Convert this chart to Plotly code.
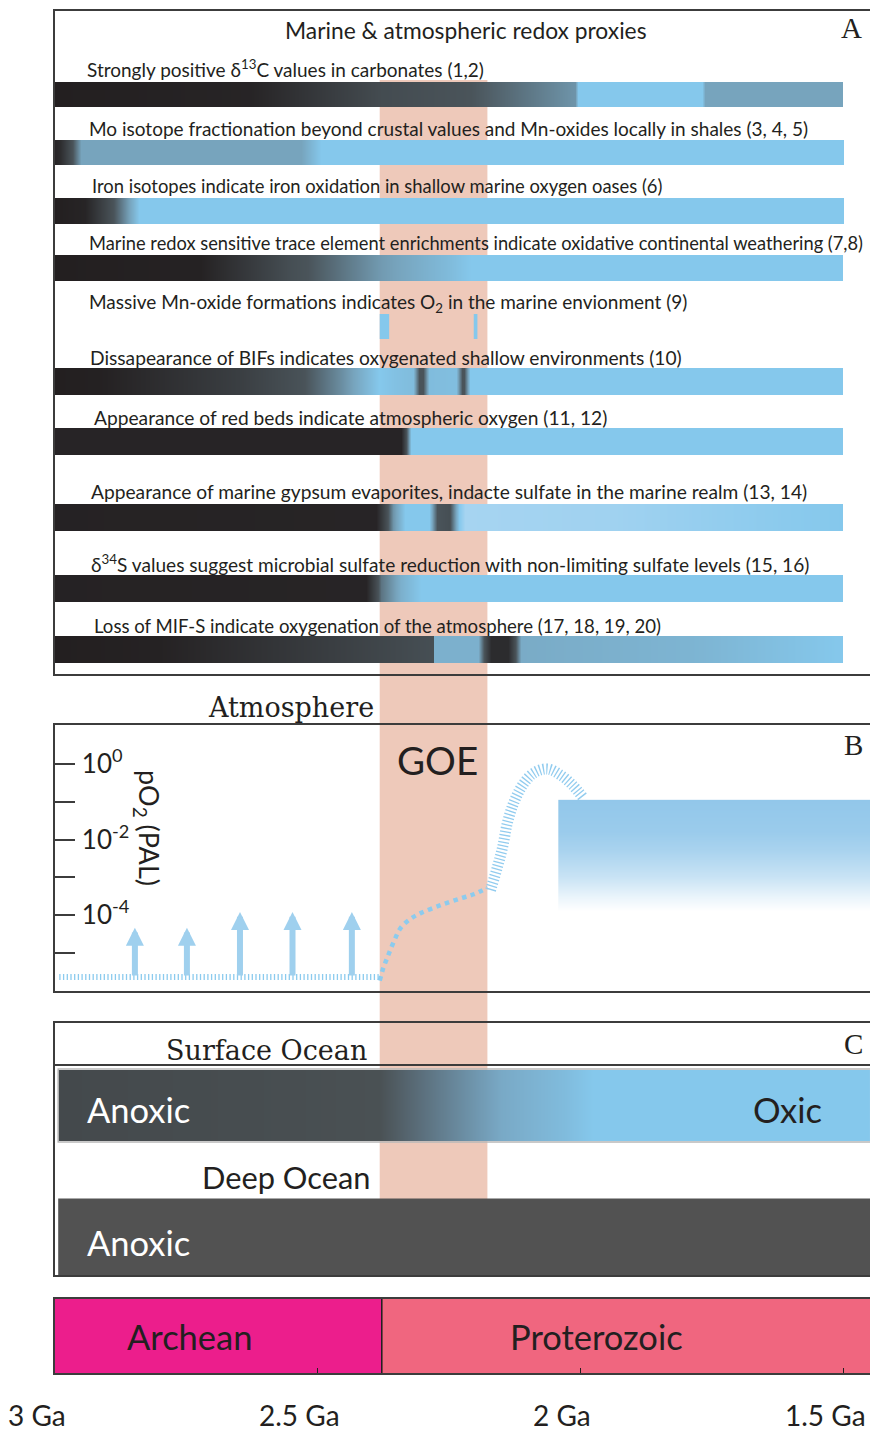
import plotly.graph_objects as go

# ---------------- canvas / layout constants ----------------
W, H = 870, 1432
ML, MR, MT, MB = 54, 0, 0, 58
PW, PH = W - ML - MR, H - MT - MB

def pxx(px):
    return (px - ML) / PW

def pxy(py):
    return (H - MB - py) / PH

SANS = "Lato, 'Open Sans', sans-serif"
SERIF = "'DejaVu Serif', serif"
SERIF2 = "'Liberation Serif', serif"
INK = '#231f20'

# ---------------- data ----------------
time_range = [3.002, 1.4487]
time_tick_vals = [3.0, 2.5, 2.0, 1.5]
time_tick_text = ['3 Ga', '2.5 Ga', '2 Ga', '1.5 Ga']

goe_start, goe_end = 2.382, 2.177

era_names = ['Archean', 'Proterozoic']
era_start = [3.002, 2.378]
era_end = [2.378, 1.40]
era_colors = ['#ec1e8c', '#f0667f']
era_label_ga = [2.745, 1.970]

proxy_labels = [
    'Strongly positive δ<sup>13</sup>C values in carbonates (1,2)',
    'Mo isotope fractionation beyond crustal values and Mn-oxides locally in shales (3, 4, 5)',
    'Iron isotopes indicate iron oxidation in shallow marine oxygen oases (6)',
    'Marine redox sensitive trace element enrichments indicate oxidative continental weathering (7,8)',
    'Massive Mn-oxide formations indicates O<sub>2</sub> in the marine envionment (9)',
    'Dissapearance of BIFs indicates oxygenated shallow environments (10)',
    'Appearance of red beds indicate atmospheric oxygen (11, 12)',
    'Appearance of marine gypsum evaporites, indacte sulfate in the marine realm (13, 14)',
    'δ<sup>34</sup>S values suggest microbial sulfate reduction with non-limiting sulfate levels (15, 16)',
    'Loss of MIF-S indicate oxygenation of the atmosphere (17, 18, 19, 20)',
]

# oxidation index along time (0 = anoxic/dark, 0.9 = oxic blue, 1 = pale blue)
d13c_ga = [3.002, 2.627, 2.380, 2.209, 2.010, 2.004, 1.768, 1.762, 1.5]
d13c_z = [0.0, 0.05, 0.42, 0.50, 0.70, 0.90, 0.90, 0.75, 0.75]
mo_ga = [3.002, 2.992, 2.951, 2.532, 2.494, 1.5]
mo_z = [0.05, 0.10, 0.75, 0.75, 0.90, 0.90]
fe_ga = [3.002, 2.943, 2.840, 1.5]
fe_z = [0.0, 0.05, 0.90, 0.90]
trace_ga = [3.002, 2.722, 2.551, 2.380, 2.247, 2.209, 1.5]
trace_z = [0.0, 0.03, 0.45, 0.72, 0.85, 0.90, 0.90]
mnox_start = [2.382, 2.203]
mnox_end = [2.364, 2.196]
bif_ga = [3.002, 2.913, 2.646, 2.532, 2.456, 2.384, 2.352, 2.319, 2.308, 2.300, 2.289,
          2.236, 2.226, 2.221, 2.211, 1.5]
bif_z = [0.0, 0.02, 0.30, 0.48, 0.68, 0.90, 0.87, 0.85, 0.50, 0.50, 0.85,
         0.86, 0.50, 0.50, 0.90, 0.90]
redbed_ga = [3.002, 2.342, 2.323, 1.5]
redbed_z = [0.05, 0.05, 0.90, 0.90]
gyp_ga = [3.002, 2.390, 2.357, 2.333, 2.289, 2.272, 2.251, 2.232, 2.219, 1.924, 1.620, 1.5]
gyp_z = [0.03, 0.05, 0.70, 0.90, 0.90, 0.50, 0.45, 0.90, 1.00, 0.98, 0.92, 0.90]
s34_ga = [3.002, 2.409, 2.380, 2.342, 2.304, 1.5]
s34_z = [0.03, 0.05, 0.60, 0.80, 0.90, 0.90]
mif_ga = [3.002, 2.798, 2.281, 2.279, 2.194, 2.171, 2.137, 2.114, 1.772, 1.5]
mif_z = [0.0, 0.03, 0.45, 0.80, 0.80, 0.12, 0.12, 0.78, 0.82, 0.90]

surface_ga = [2.994, 2.532, 2.384, 2.304, 2.152, 2.029, 1.977, 1.40]
surface_z = [0.0, 0.10, 0.15, 0.40, 0.75, 0.90, 1.0, 1.0]
deep_start, deep_end = 2.994, 1.40

# atmosphere (log10 pO2, PAL)
po2_tick_vals = [0, -1, -2, -3, -4, -5]
po2_tick_text = ['10<sup>0</sup>', ' ', '10<sup>-2</sup>', ' ', '10<sup>-4</sup>', ' ']
archean_base_ga = [2.992, 2.384]
archean_base_po2 = [-5.64, -5.64]
arrow_ga = [2.848, 2.749, 2.648, 2.548, 2.435]
arrow_tip_po2 = [-4.34, -4.34, -3.92, -3.92, -3.92]
goe_rise_ga = [2.382, 2.375, 2.367, 2.355, 2.342, 2.323, 2.304, 2.266, 2.228, 2.203, 2.177]
goe_rise_po2 = [-5.74, -5.40, -5.11, -4.70, -4.34, -4.10, -3.95, -3.74, -3.56, -3.45, -3.28]
overshoot_ga = [2.171, 2.158, 2.148, 2.139, 2.127, 2.110, 2.089, 2.063, 2.038, 2.015, 1.996]
overshoot_po2 = [-3.34, -2.73, -2.20, -1.56, -1.03, -0.56, -0.24, -0.13, -0.29, -0.56, -0.87]
prot_band_ga = [2.042, 1.70, 1.40]
prot_band_po2 = [-0.95, -1.8, -2.3, -3.0, -3.5, -3.9]
prot_band_z = [1.0, 0.92, 0.78, 0.5, 0.2, 0.0]

# ---------------- styles / positions ----------------
CS_PROXY = [[0.0, '#231f20'], [0.5, '#4a545a'], [0.75, '#77a4bd'],
            [0.9, '#85c8ec'], [1.0, '#a6d4f1']]
CS_SURF = [[0.0, '#44494c'], [0.15, '#4a5154'], [0.4, '#5b6f7c'],
           [0.75, '#79a9c6'], [1.0, '#85c8ec']]
CS_ATM = [[0.0, '#ffffff'], [1.0, '#92c7ea']]

row_bar_px = [(82, 107), (140, 165), (198, 224), (255, 281), (314, 339),
              (368, 395), (428, 455), (504, 531), (575, 602), (636, 663)]
row_label_px = [(85, 68), (87, 128), (90, 186), (87, 243), (87, 303),
                (88, 357), (92, 417), (89, 492), (89, 564), (92, 626)]
row_label_size = [19.0, 19.0, 18.4, 18.3, 19.0, 19.2, 19.2, 19.2, 19.1, 18.6]


def pad(xs, zs):
    """Add near-duplicate points at the ends so heatmap bricks stop at the ends."""
    d0 = (xs[1] - xs[0]) * 0.002
    d1 = (xs[-1] - xs[-2]) * 0.002
    return ([xs[0], xs[0] + d0] + xs[1:-1] + [xs[-1] - d1, xs[-1]],
            [zs[0], zs[0]] + zs[1:-1] + [zs[-1], zs[-1]])


def hbar(ga, z, y0, y1, yaxis, cs):
    x2, z2 = pad(ga, z)
    return go.Heatmap(x=x2, y=[y0, (y0 + y1) / 2, y1], z=[z2, z2], zsmooth='best',
                      colorscale=cs, zmin=0, zmax=1, showscale=False,
                      xaxis='x', yaxis=yaxis, hoverinfo='skip')


fig = go.Figure()

rows = [(d13c_ga, d13c_z), (mo_ga, mo_z), (fe_ga, fe_z), (trace_ga, trace_z), None,
        (bif_ga, bif_z), (redbed_ga, redbed_z), (gyp_ga, gyp_z), (s34_ga, s34_z),
        (mif_ga, mif_z)]
for i, r in enumerate(rows):
    y0, y1 = row_bar_px[i]
    if r is None:
        fig.add_trace(go.Bar(
            y=[(y0 + y1) / 2] * len(mnox_start), base=mnox_start,
            x=[e - s for s, e in zip(mnox_start, mnox_end)], width=y1 - y0,
            orientation='h', marker=dict(color='#85c8ec', line=dict(width=0)),
            xaxis='x', yaxis='y', hoverinfo='skip'))
    else:
        fig.add_trace(hbar(r[0], r[1], y0, y1, 'y', CS_PROXY))

# panel B: atmosphere
fig.add_trace(go.Scatter(x=archean_base_ga, y=archean_base_po2, mode='lines',
                         line=dict(color='#8ccbee', width=6, dash='1.3px,2.4px'),
                         xaxis='x', yaxis='y2', hoverinfo='skip'))
fig.add_trace(go.Scatter(x=goe_rise_ga, y=goe_rise_po2, mode='lines',
                         line=dict(color='#8ccbee', width=4.5, dash='dot', shape='spline'),
                         xaxis='x', yaxis='y2', hoverinfo='skip'))
fig.add_trace(go.Scatter(x=overshoot_ga, y=overshoot_po2, mode='lines',
                         line=dict(color='#92ccef', width=11, dash='1.3px,2.2px', shape='spline'),
                         xaxis='x', yaxis='y2', hoverinfo='skip'))
yb, zb = pad(prot_band_po2, prot_band_z)
fig.add_trace(go.Heatmap(x=prot_band_ga, y=yb, z=[[v, v] for v in zb], zsmooth='best',
                         colorscale=CS_ATM, zmin=0, zmax=1, showscale=False,
                         xaxis='x', yaxis='y2', hoverinfo='skip'))

# panel C: ocean
fig.add_trace(hbar(surface_ga, surface_z, 1070, 1141, 'y3', CS_SURF))
fig.add_trace(go.Bar(y=[1237], base=[deep_start], x=[deep_end - deep_start], width=77,
                     orientation='h', marker=dict(color='#525252', line=dict(width=0)),
                     xaxis='x', yaxis='y3', hoverinfo='skip'))

# panel D: eras
fig.add_trace(go.Bar(y=[0.5, 0.5], base=era_start,
                     x=[e - s for s, e in zip(era_start, era_end)], width=1,
                     orientation='h',
                     marker=dict(color=era_colors, line=dict(color=INK, width=1.5)),
                     xaxis='x', yaxis='y4', hoverinfo='skip'))

# ---------------- annotations ----------------
ann = []

def text(t, px, py, size, family=SANS, color=INK, xanchor='center', angle=0):
    ann.append(dict(text=t, x=pxx(px), y=pxy(py), xref='paper', yref='paper',
                    xanchor=xanchor, yanchor='middle', showarrow=False, textangle=angle,
                    font=dict(size=size, family=family, color=color)))

text('Marine &amp; atmospheric redox proxies', 466, 30, 22.8)
text('A', 851, 28, 29, SERIF2)
for lab, (lx, ly), fs in zip(proxy_labels, row_label_px, row_label_size):
    text(lab, lx, ly, fs, xanchor='left')
text('Atmosphere', 376, 707, 27, SERIF, xanchor='right')
text('GOE', 437, 760, 38.5)
text('B', 853, 745, 29, SERIF2)
text('pO<sub>2</sub> (PAL)', 148, 828, 27, angle=90)
text('Surface Ocean', 369, 1050, 27, SERIF, xanchor='right')
text('C', 853, 1044, 29, SERIF2)
text('Anoxic', 85, 1109, 34.5, color='white', xanchor='left')
text('Oxic', 787, 1109, 34.5)
text('Deep Ocean', 373, 1177, 30.8, xanchor='right')
text('Anoxic', 85, 1242, 34.5, color='white', xanchor='left')
for name, ga in zip(era_names, era_label_ga):
    ann.append(dict(text=name, x=ga, y=0.5, xref='x', yref='y4', showarrow=False,
                    xanchor='center', yanchor='middle',
                    font=dict(size=34.5, family=SANS, color=INK)))
# time-axis labels (drawn slightly left of their ticks, as in the original figure)
for tv, tt in zip(time_tick_vals, time_tick_text):
    ann.append(dict(text=tt, x=tv, y=pxy(1415), xref='x', yref='paper', showarrow=False,
                    xanchor='center', yanchor='middle', xshift=-18, borderpad=0,
                    font=dict(size=28, family=SANS, color=INK)))

for ga, tip in zip(arrow_ga, arrow_tip_po2):
    ann.append(dict(text='', x=ga, y=tip, ax=ga, ay=archean_base_po2[0],
                    xref='x', yref='y2', axref='x', ayref='y2', showarrow=True,
                    arrowhead=2, arrowsize=0.6, arrowwidth=6, arrowcolor='#9fd0ee'))

# ---------------- shapes ----------------
FRAME = '#3c3c3c'
shapes = [
    dict(type='rect', xref='x', yref='paper', x0=goe_start, x1=goe_end,
         y0=pxy(1199), y1=pxy(80), fillcolor='#eec9ba', line=dict(width=0), layer='below'),
]
for top, bot in [(10, 675), (724, 992), (1022, 1276), (1298, 1374)]:
    shapes.append(dict(type='rect', xref='paper', yref='paper', x0=0, x1=1.2,
                       y0=pxy(bot), y1=pxy(top), line=dict(color=FRAME, width=2),
                       fillcolor='rgba(0,0,0,0)', layer='above'))
shapes.append(dict(type='line', xref='paper', yref='paper', x0=0, x1=1.2,
                   y0=pxy(1065), y1=pxy(1065), line=dict(color=FRAME, width=2)))
shapes.append(dict(type='rect', xref='x', yref='y3', x0=surface_ga[0], x1=1.40,
                   y0=1069, y1=1142, line=dict(color='#b8b8b8', width=1.5)))

fig.update_layout(
    width=W, height=H, margin=dict(l=ML, r=MR, t=MT, b=MB),
    paper_bgcolor='white', plot_bgcolor='rgba(0,0,0,0)',
    showlegend=False, barmode='overlay',
    annotations=ann, shapes=shapes,
    xaxis=dict(domain=[0, 1], range=time_range, anchor='y4', showgrid=False,
               zeroline=False, showline=False, ticks='inside', ticklen=6,
               tickwidth=1, tickcolor=INK, tickvals=time_tick_vals,
               showticklabels=False),
    yaxis=dict(domain=[pxy(675), pxy(10)], range=[675, 10], visible=False, anchor='x'),
    yaxis2=dict(domain=[pxy(992), pxy(724)], range=[-6.04, 1.06], anchor='x',
                showgrid=False, zeroline=False, showline=False, ticks='inside',
                ticklen=21, tickwidth=1.5, tickcolor=FRAME, tickvals=po2_tick_vals,
                ticktext=po2_tick_text, ticklabelposition='inside', ticklabelstandoff=9,
                tickfont=dict(size=26, family=SANS, color=INK)),
    yaxis5=dict(overlaying='y2', side='right', range=[-6.04, 1.06], anchor='x',
                showgrid=False, zeroline=False, showline=False, ticks='inside',
                ticklen=7, tickwidth=1.5, tickcolor=FRAME, tickvals=po2_tick_vals,
                showticklabels=False),
    yaxis3=dict(domain=[pxy(1276), pxy(1022)], range=[1276, 1022], visible=False, anchor='x'),
    yaxis4=dict(domain=[0, pxy(1298)], range=[0, 1], visible=False, anchor='x'),
)

fig.write_html('out.html', config={'displayModeBar': False},
               post_script="document.body.style.margin='0';document.body.style.overflow='hidden';")
